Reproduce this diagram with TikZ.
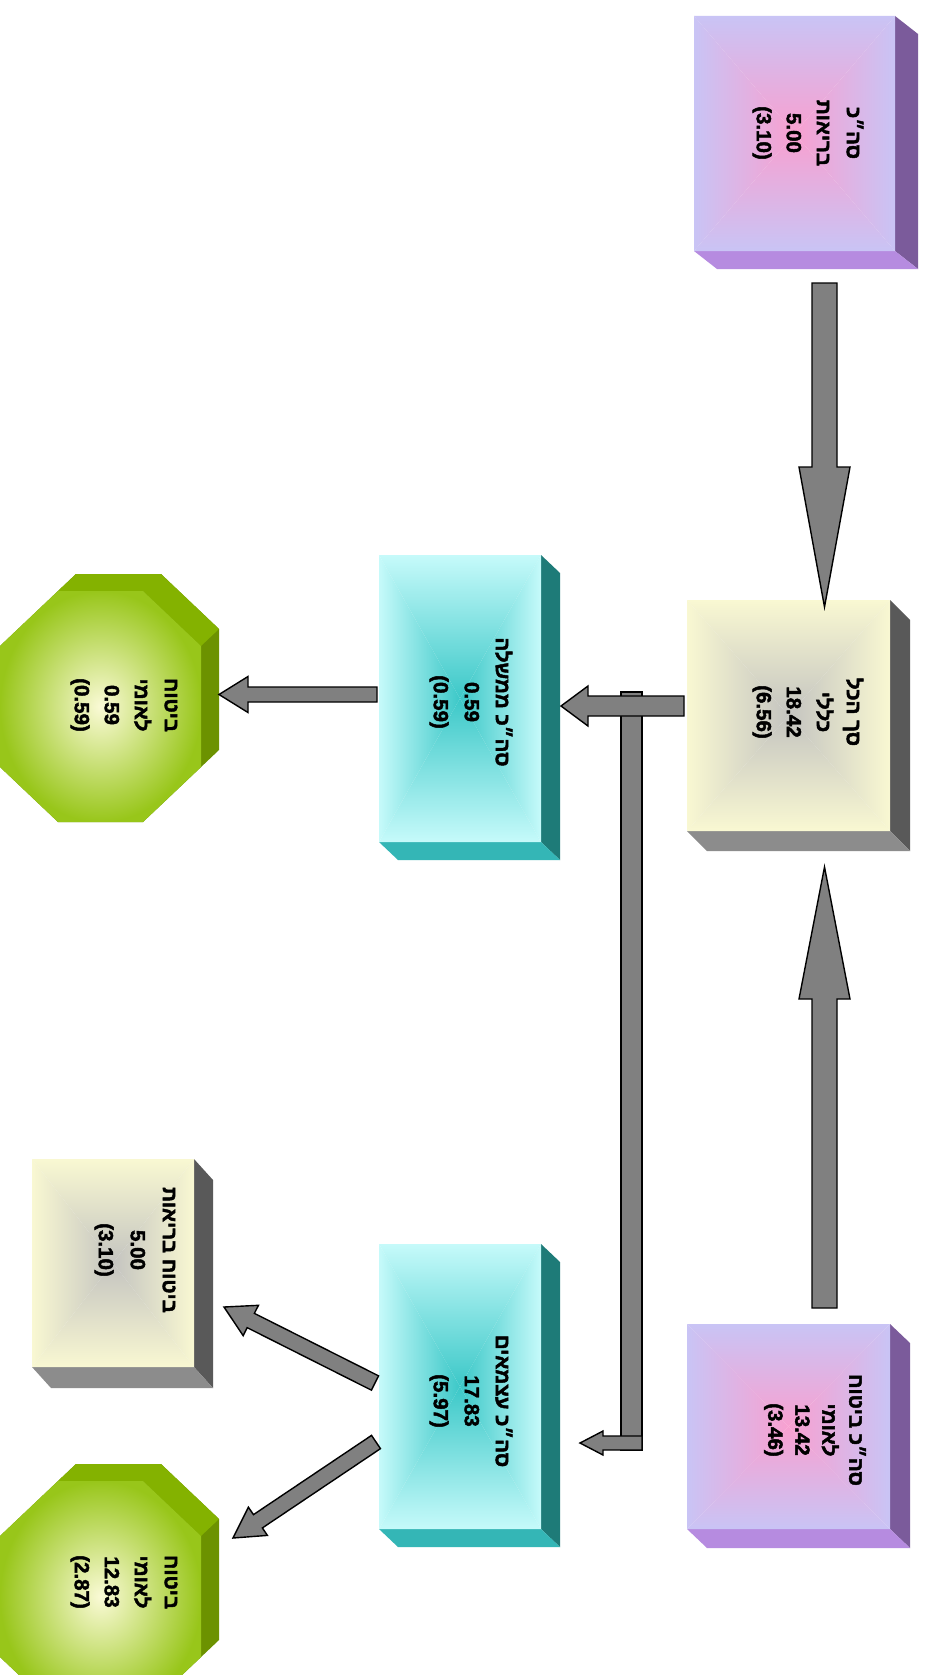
\documentclass[tikz,border=0pt]{standalone}
\usepackage{fontspec}
\setmainfont[Script=Hebrew, BoldFeatures={FakeBold=2.2}]{Liberation Sans}
\TeXXeTstate=1
\usetikzlibrary{calc}
\definecolor{purOut}{RGB}{201,196,245}
\definecolor{purIn}{RGB}{248,160,208}
\definecolor{purSide}{RGB}{123,91,155}
\definecolor{purBot}{RGB}{182,139,224}
\definecolor{yelOut}{RGB}{249,248,210}
\definecolor{yelIn}{RGB}{196,196,192}
\definecolor{yelSide}{RGB}{89,89,89}
\definecolor{yelBot}{RGB}{140,140,140}
\definecolor{cyOut}{RGB}{198,250,250}
\definecolor{cyIn}{RGB}{60,200,200}
\definecolor{cySide}{RGB}{30,123,120}
\definecolor{cyBot}{RGB}{52,182,182}
\definecolor{grIn}{RGB}{250,250,214}
\definecolor{grOut}{RGB}{152,198,26}
\definecolor{grTop}{RGB}{132,178,0}
\definecolor{grSide}{RGB}{108,146,0}
\definecolor{arrGray}{RGB}{128,128,128}
\newcommand\cubeface[7]{%
  \fill[#4] (#1.north east) -- ++(#6,#7) -- ($(#1.south east)+(#6,#7)$) -- (#1.south east) -- cycle;
  \fill[#5] (#1.south west) -- (#1.south east) -- ++(#6,#7) -- ($(#1.south west)+(#6,#7)$) -- cycle;
  \shade[top color=#2, bottom color=#3] (#1.north west) -- (#1.north east) -- (#1.center) -- cycle;
  \shade[top color=#3, bottom color=#2] (#1.south west) -- (#1.south east) -- (#1.center) -- cycle;
  \shade[left color=#2, right color=#3] (#1.north west) -- (#1.south west) -- (#1.center) -- cycle;
  \shade[left color=#3, right color=#2] (#1.north east) -- (#1.south east) -- (#1.center) -- cycle;
}
\newcommand\octface[1]{%
  \coordinate (o1) at ($(#1.north west)+(58,0)$);
  \coordinate (o2) at ($(#1.north east)+(-58,0)$);
  \coordinate (o3) at ($(#1.north east)+(0,55)$);
  \coordinate (o4) at ($(#1.south east)+(0,-55)$);
  \coordinate (o5) at ($(#1.south east)+(-58,0)$);
  \coordinate (o6) at ($(#1.south west)+(58,0)$);
  \coordinate (o7) at ($(#1.south west)+(0,-55)$);
  \coordinate (o8) at ($(#1.north west)+(0,55)$);
  \fill[grSide] (o1) -- ($(o1)+(18,-17)$) -- ($(o2)+(18,-17)$) -- ($(o3)+(18,-17)$) -- ($(o4)+(18,-17)$) -- ($(o5)+(18,-17)$) -- (o5) -- (o6) -- (o7) -- (o8) -- cycle;
  \fill[grTop] (o1) -- ($(o1)+(18,-17)$) -- ($(o2)+(18,-17)$) -- ($(o3)+(18,-17)$) -- (o3) -- (o2) -- cycle;
  \shade[inner color=grIn, outer color=grOut] (o1) -- (o2) -- (o3) -- (o4) -- (o5) -- (o6) -- (o7) -- (o8) -- cycle;
}
\newcommand\blockarrow[5]{%
  \coordinate (bh) at ($(#2)!#5!(#1)$);
  \draw[barrow] ($(#1)!#3!90:(#2)$) -- ($(bh)!#3!90:(#2)$) -- ($(bh)!#4!90:(#2)$) -- (#2)
    -- ($(bh)!#4!-90:(#2)$) -- ($(bh)!#3!-90:(#2)$) -- ($(#1)!#3!-90:(#2)$) -- cycle;
}
\tikzset{
  facebox/.style 2 args={inner sep=0pt, outer sep=0pt, minimum width=#1, minimum height=#2},
  lbl/.style={rotate=-90, align=center, inner sep=0pt, font=\bfseries\fontsize{20.5}{30}\selectfont},
  barrow/.style={fill=arrGray, draw=black, line width=1.4pt, line join=miter}
}
\begin{document}
\begin{tikzpicture}[x=1pt,y=-1pt]
\fill[white] (0,0) rectangle (926,1675);
\useasboundingbox (0,0) rectangle (926,1675);
\clip (0,0) rectangle (926,1675);

% face anchors
\node[facebox={201pt}{235pt}] (A) at (794.5,133.5) {};
\node[facebox={203pt}{231pt}] (B) at (788.5,715.5) {};
\node[facebox={203pt}{205pt}] (C) at (788.5,1426.5) {};
\node[facebox={162pt}{287pt}] (D) at (460,698.5) {};
\node[facebox={162pt}{285pt}] (E) at (460,1386.5) {};
\node[facebox={162pt}{208pt}] (F) at (113,1263) {};
\node[facebox={201pt}{231pt}] (G) at (100.5,706.5) {};
\node[facebox={201pt}{231pt}] (H) at (100.5,1596.5) {};

\cubeface{A}{purOut}{purIn}{purSide}{purBot}{23}{18}
\cubeface{B}{yelOut}{yelIn}{yelSide}{yelBot}{20}{20}
\cubeface{C}{purOut}{purIn}{purSide}{purBot}{20}{19}
\cubeface{D}{cyOut}{cyIn}{cySide}{cyBot}{19}{18}
\cubeface{E}{cyOut}{cyIn}{cySide}{cyBot}{19}{18}
\cubeface{F}{yelOut}{yelIn}{yelSide}{yelBot}{19}{21}
\octface{G}
\octface{H}

% labels
\node[lbl] (tA) at (808,133) {\beginR סה״כ\endR\\ \beginR בריאות\endR\\ 5.00\\ (3.10)};
\node[lbl] (tB) at (808,712) {\beginR סך הכל\endR\\ \beginR כללי\endR\\ 18.42\\ (6.56)};
\node[lbl, font=\bfseries\fontsize{20.5}{27}\selectfont] (tC) at (815,1430) {\beginR סה״כ ביטוח\endR\\ \beginR לאומי\endR\\ 13.42\\ (3.46)};
\node[lbl, font=\bfseries\fontsize{20.5}{31}\selectfont] (tD) at (471,702) {\beginR סה״כ ממשלה\endR\\ 0.59\\ (0.59)};
\node[lbl, font=\bfseries\fontsize{20.5}{31}\selectfont] (tE) at (471,1401) {\beginR סה״כ עצמאים\endR\\ 17.83\\ (5.97)};
\node[lbl, font=\bfseries\fontsize{20.5}{32}\selectfont] (tF) at (135,1250) {\beginR ביטוח בריאות\endR\\ 5.00\\ (3.10)};
\node[lbl] (tG) at (124,705) {\beginR ביטוח\endR\\ \beginR לאומי\endR\\ 0.59\\ (0.59)};
\node[lbl] (tH) at (124,1582) {\beginR ביטוח\endR\\ \beginR לאומי\endR\\ 12.83\\ (2.87)};

% connectors
\coordinate (a1s) at ($(A.south)+(30,32)$);
\coordinate (a1e) at ($(B.north)+(36,7)$);
\blockarrow{a1s}{a1e}{12.5pt}{25.5pt}{140pt}
\coordinate (a2s) at ($(C.north)+(36,-16)$);
\coordinate (a2e) at ($(B.south)+(36,36)$);
\blockarrow{a2s}{a2e}{12.5pt}{25.5pt}{132pt}

\coordinate (vtop) at ($(B.west)+(-55.5,-23.5)$);
\coordinate (vbot) at ($(E.east)+(90.5,63.5)$);
\draw[barrow] ($(vtop)+(-10.5,0)$) rectangle ($(vbot)+(10.5,0)$);

\coordinate (a3s) at ($(B.west)+(-3,-9.5)$);
\coordinate (a3e) at ($(D.east)+(20,7.5)$);
\blockarrow{a3s}{a3e}{10pt}{20pt}{27pt}

\coordinate (a7s) at ($(vbot)+(10.5,-7)$);
\coordinate (a7e) at ($(E.east)+(39,56.5)$);
\blockarrow{a7s}{a7e}{7pt}{12pt}{23pt}

\coordinate (a4s) at ($(D.west)+(-2,-4)$);
\coordinate (a4e) at ($(G.east)+(18,-12)$);
\blockarrow{a4s}{a4e}{7.5pt}{18pt}{29pt}

\coordinate (a5s) at ($(E.west)+(-4,-3.5)$);
\coordinate (a5e) at ($(F.south east)+(30,-60)$);
\blockarrow{a5s}{a5e}{8pt}{17pt}{30pt}

\coordinate (a6s) at ($(E.west)+(-3,55.5)$);
\coordinate (a6e) at ($(H.east)+(32,-58.5)$);
\blockarrow{a6s}{a6e}{8pt}{17pt}{30pt}
\end{tikzpicture}
\end{document}
